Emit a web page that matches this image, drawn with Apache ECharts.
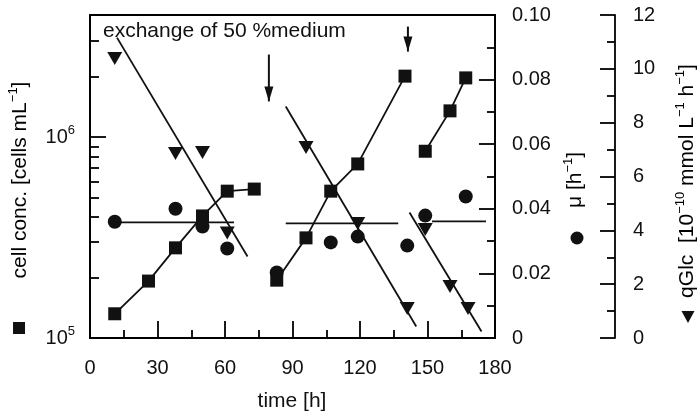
<!DOCTYPE html>
<html><head><meta charset="utf-8">
<script src="https://cdn.jsdelivr.net/npm/echarts@6/dist/echarts.min.js"></script>
<style>html,body{margin:0;padding:0;background:#fff}#c{width:697px;height:415px}</style>
</head><body><div id="c"></div>
<script>
// ---- data ----
const cellTime  = [11, 26, 38, 50, 61, 73, 83, 96, 107, 119, 140, 149, 160, 167];
const cellConc  = [1.32e5, 1.92e5, 2.81e5, 4.05e5, 5.38e5, 5.51e5, 1.94e5, 3.15e5, 5.38e5, 7.35e5, 2.01e6, 8.5e5, 1.35e6, 1.97e6];
const cellPhase = [1, 1, 1, 1, 1, 1, 2, 2, 2, 2, 2, 3, 3, 3];

const muTime = [11, 38, 50, 61, 83, 107, 119, 141, 149, 167];
const muVal  = [0.036, 0.040, 0.0345, 0.0277, 0.0203, 0.0296, 0.0314, 0.0286, 0.0379, 0.0438];
const muFitStart = [11, 87, 152];
const muFitEnd   = [64, 137, 176];
const muFitVal   = [0.0358, 0.0355, 0.0361];

const qTime = [11, 38, 50, 61, 96, 119, 141, 149, 160, 168];
const qVal  = [10.38, 6.85, 6.89, 3.90, 7.08, 4.25, 1.10, 4.03, 1.91, 1.10];
const qFitX1 = [12, 87, 142];
const qFitY1 = [11.16, 8.60, 4.66];
const qFitX2 = [70, 145, 174];
const qFitY2 = [3.03, 0.43, 0.24];

const arrowX   = [79.5, 141.3];
const arrowTop = [10.53, 11.57];
const arrowTip = [8.79, 10.64];

const cellMajorTicks = [1e5, 1e6];
const cellMinorTicks = [2e5, 3e5, 4e5, 5e5, 6e5, 7e5, 8e5, 9e5, 2e6, 3e6];
const cellMin = 1e5, cellMax = 4.05e6;

// ---- chart ----
const FONT = 'Liberation Sans';
const INK = '#111';
const chart = echarts.init(document.getElementById('c'), null, {renderer: 'canvas'});

const series = [];
[1, 2, 3].forEach(p => {
  const d = [];
  cellTime.forEach((t, i) => { if (cellPhase[i] === p) d.push([t, cellConc[i]]); });
  series.push({type: 'line', yAxisIndex: 0, data: d, symbol: 'rect', symbolSize: 13,
    itemStyle: {color: INK, opacity: 1}, lineStyle: {color: INK, width: 1.8}, z: 3});
});
muFitStart.forEach((s, i) => {
  series.push({type: 'line', yAxisIndex: 3, data: [[s, muFitVal[i]], [muFitEnd[i], muFitVal[i]]],
    symbol: 'none', lineStyle: {color: INK, width: 1.8}, z: 2});
});
series.push({type: 'scatter', yAxisIndex: 3, data: muTime.map((t, i) => [t, muVal[i]]),
  symbol: 'circle', symbolSize: 14, itemStyle: {color: INK, opacity: 1}, z: 4});
qFitX1.forEach((x, i) => {
  series.push({type: 'line', yAxisIndex: 4, data: [[x, qFitY1[i]], [qFitX2[i], qFitY2[i]]],
    symbol: 'none', lineStyle: {color: INK, width: 1.8}, z: 2});
});
series.push({type: 'scatter', yAxisIndex: 4, data: qTime.map((t, i) => [t, qVal[i]]),
  symbol: 'triangle', symbolRotate: 180, symbolSize: [15, 13], itemStyle: {color: INK, opacity: 1}, z: 4});
arrowX.forEach((x, i) => {
  series.push({type: 'line', yAxisIndex: 4, data: [[x, arrowTop[i]], [x, arrowTip[i]]],
    symbol: 'none', lineStyle: {color: INK, width: 2}, z: 2});
});
series.push({type: 'scatter', yAxisIndex: 4, data: arrowX.map((x, i) => [x, arrowTip[i]]),
  symbol: 'path://M0,0L10,0L5,16Z', symbolSize: [9, 15], symbolOffset: [0, '-50%'],
  itemStyle: {color: INK, opacity: 1}, z: 4});

const axisLineStyle = {color: '#000', width: 1.8};
const lblBase = {fontFamily: FONT, fontSize: 20, color: INK};

const option = {
  backgroundColor: '#fff',
  animation: false,
  textStyle: {fontFamily: FONT},
  grid: {left: 90, top: 15, right: 202, bottom: 77, show: true, borderColor: '#000', borderWidth: 1.8, containLabel: false},
  xAxis: [{
    type: 'value', min: 0, max: 180, interval: 30, position: 'bottom',
    axisLine: {show: true, lineStyle: axisLineStyle},
    axisTick: {show: true, inside: true, length: 17, lineStyle: axisLineStyle},
    minorTick: {show: true, splitNumber: 2, length: 8, lineStyle: axisLineStyle},
    splitLine: {show: false}, minorSplitLine: {show: false},
    axisLabel: Object.assign({margin: 20}, lblBase)
  }],
  yAxis: [
    {type: 'log', logBase: 10, min: cellMin, max: cellMax, show: false},
    {type: 'value', position: 'left', min: Math.log10(cellMin), max: Math.log10(cellMax),
      axisLine: {show: true, lineStyle: axisLineStyle},
      axisTick: {show: true, inside: true, length: 16, lineStyle: axisLineStyle, customValues: cellMajorTicks.map(v => Math.log10(v))},
      splitLine: {show: false},
      axisLabel: Object.assign({margin: 15, customValues: cellMajorTicks.map(v => Math.log10(v)),
        formatter: v => '{b|10}{s|' + Math.round(v) + '}',
        rich: {b: {fontFamily: FONT, fontSize: 20, color: INK}, s: {fontFamily: FONT, fontSize: 13, color: INK, padding: [0, 0, 13, 0]}}}, lblBase)
    },
    {type: 'value', position: 'left', min: Math.log10(cellMin), max: Math.log10(cellMax),
      axisLine: {show: false},
      axisTick: {show: true, inside: true, length: 9, lineStyle: axisLineStyle, customValues: cellMinorTicks.map(v => Math.log10(v))},
      axisLabel: {show: false}, splitLine: {show: false}
    },
    {type: 'value', position: 'right', min: 0, max: 0.1, interval: 0.02,
      axisLine: {show: true, lineStyle: axisLineStyle},
      axisTick: {show: true, inside: true, length: 16, lineStyle: axisLineStyle},
      minorTick: {show: true, splitNumber: 2, length: 8, lineStyle: axisLineStyle},
      splitLine: {show: false}, minorSplitLine: {show: false},
      axisLabel: Object.assign({margin: 17, formatter: v => v === 0 ? '0' : v.toFixed(2)}, lblBase)
    },
    {type: 'value', position: 'right', offset: 120, min: 0, max: 12, interval: 2,
      axisLine: {show: true, lineStyle: axisLineStyle},
      axisTick: {show: true, inside: true, length: 15, lineStyle: axisLineStyle},
      minorTick: {show: true, splitNumber: 2, length: 8, lineStyle: axisLineStyle},
      splitLine: {show: false}, minorSplitLine: {show: false},
      axisLabel: Object.assign({margin: 18}, lblBase)
    }
  ],
  series: series,
  graphic: [
    {type: 'text', x: 103, y: 31, style: {text: 'exchange of 50 %medium', font: '21px "Liberation Sans"', fill: INK, textAlign: 'left', textVerticalAlign: 'middle'}},
    {type: 'text', x: 292, y: 401, style: {text: 'time [h]', font: '21px "Liberation Sans"', fill: INK, textAlign: 'center', textVerticalAlign: 'middle'}},
    {type: 'text', x: 20, y: 180, rotation: Math.PI / 2, style: {
      text: '{n|cell conc. [cells mL}{s|\u22121}{n|]}', textAlign: 'center', textVerticalAlign: 'middle',
      rich: {n: {fontFamily: FONT, fontSize: 21, color: INK}, s: {fontFamily: FONT, fontSize: 13, color: INK, padding: [0, 0, 13, 0]}}}},
    {type: 'text', x: 575, y: 180, rotation: Math.PI / 2, style: {
      text: '{n|\u03bc [h}{s|\u22121}{n|]}', textAlign: 'center', textVerticalAlign: 'middle',
      rich: {n: {fontFamily: FONT, fontSize: 21, color: INK}, s: {fontFamily: FONT, fontSize: 13, color: INK, padding: [0, 0, 13, 0]}}}},
    {type: 'text', x: 687, y: 181, rotation: Math.PI / 2, style: {
      text: '{n|qGlc  [10}{s|\u221210}{n| mmol L}{s|\u22121}{n| h}{s|\u22121}{n|]}', textAlign: 'center', textVerticalAlign: 'middle',
      rich: {n: {fontFamily: FONT, fontSize: 21, color: INK}, s: {fontFamily: FONT, fontSize: 13, color: INK, padding: [0, 0, 13, 0]}}}},
    {type: 'rect', shape: {x: 13, y: 322, width: 12, height: 12}, style: {fill: INK}},
    {type: 'circle', shape: {cx: 577, cy: 238, r: 6.5}, style: {fill: INK}},
    {type: 'polygon', shape: {points: [[681.5, 311], [694.5, 311], [688, 323]]}, style: {fill: INK}}
  ]
};
chart.setOption(option);
</script>
</body></html>
